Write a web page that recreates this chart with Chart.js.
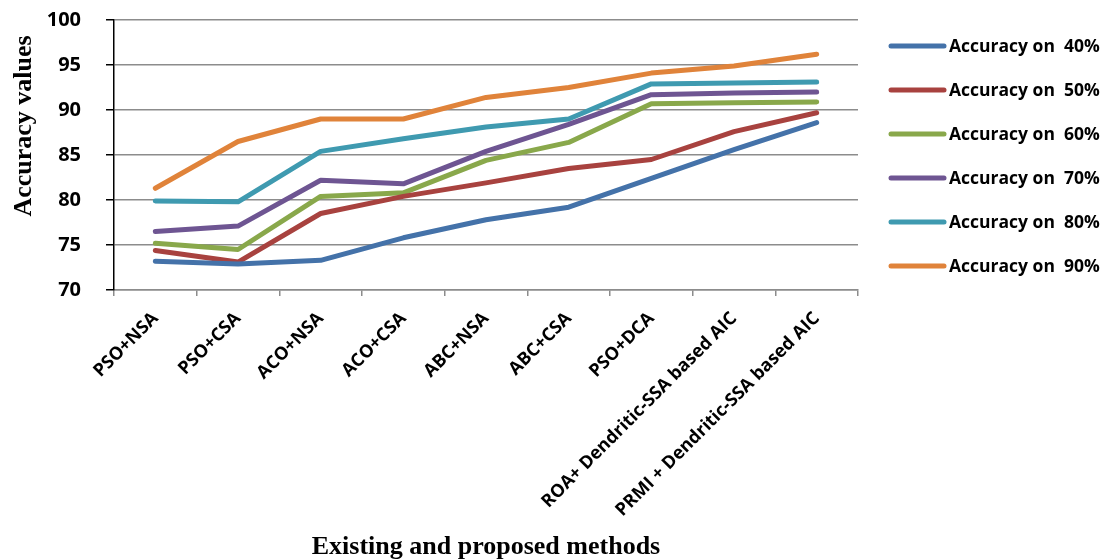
<!DOCTYPE html>
<html>
<head>
<meta charset="utf-8">
<script src="https://cdn.jsdelivr.net/npm/chart.js@4/dist/chart.umd.min.js"></script>
<style>
  html, body { margin: 0; padding: 0; background: #ffffff; }
  #wrap { width: 1108px; height: 560px; }
</style>
</head>
<body>
<div id="wrap"><canvas id="chart" width="1108" height="560"></canvas></div>
<script>
// Methods compared along the x axis
const methods = [
  'PSO+NSA', 'PSO+CSA', 'ACO+NSA', 'ACO+CSA', 'ABC+NSA', 'ABC+CSA', 'PSO+DCA',
  'ROA+ Dendritic-SSA based AIC', 'PRMI + Dendritic-SSA based AIC'
];

// Accuracy (%) for each training-data share
const acc40 = [73.2, 72.9, 73.3, 75.8, 77.8, 79.2, 82.4, 85.6, 88.6];
const acc50 = [74.4, 73.1, 78.5, 80.4, 81.9, 83.5, 84.5, 87.6, 89.7];
const acc60 = [75.2, 74.5, 80.4, 80.8, 84.4, 86.4, 90.7, 90.8, 90.9];
const acc70 = [76.5, 77.1, 82.2, 81.8, 85.4, 88.4, 91.7, 91.9, 92.0];
const acc80 = [79.9, 79.8, 85.4, 86.8, 88.1, 89.0, 92.9, 93.0, 93.1];
const acc90 = [81.3, 86.5, 89.0, 89.0, 91.4, 92.5, 94.1, 94.9, 96.2];

const seriesNames = [
  'Accuracy on  40%', 'Accuracy on  50%', 'Accuracy on  60%',
  'Accuracy on  70%', 'Accuracy on  80%', 'Accuracy on  90%'
];
const seriesColors = ['#4472a9', '#a8423f', '#89a84b', '#6e5592', '#3f9ab0', '#e0833a'];
const seriesValues = [acc40, acc50, acc60, acc70, acc80, acc90];

const yMin = 70, yMax = 100, yStep = 5;

const xTickFont = { family: '"Open Sans"', weight: 'bold', size: 18 };
const yTickFont = { family: '"Open Sans"', weight: 'bold', size: 20 };

// Legend drawn to the right of the plot: a short thick line plus the series name
const sideLegend = {
  id: 'sideLegend',
  afterDraw(chart) {
    const ctx = chart.ctx;
    ctx.save();
    ctx.font = 'bold 17.5px "Open Sans"';
    ctx.textBaseline = 'middle';
    ctx.textAlign = 'left';
    chart.data.datasets.forEach((ds, i) => {
      const y = 46 + i * 44;
      ctx.strokeStyle = ds.borderColor;
      ctx.lineWidth = 5;
      ctx.lineCap = 'round';
      ctx.beginPath();
      ctx.moveTo(891, y);
      ctx.lineTo(944, y);
      ctx.stroke();
      ctx.fillStyle = '#000000';
      ctx.fillText(ds.label, 949, y + 1);
    });
    ctx.restore();
  }
};

// Vertical y-axis title
const yTitle = {
  id: 'yTitle',
  afterDraw(chart) {
    const ctx = chart.ctx;
    ctx.save();
    ctx.translate(24, 126);
    ctx.rotate(-Math.PI / 2);
    ctx.font = 'bold 26px "Liberation Serif"';
    ctx.fillStyle = '#000000';
    ctx.textAlign = 'center';
    ctx.textBaseline = 'middle';
    ctx.fillText('Accuracy values', 0, 0);
    ctx.restore();
  }
};

new Chart(document.getElementById('chart'), {
  type: 'line',
  data: {
    labels: methods,
    datasets: seriesValues.map((vals, i) => ({
      label: seriesNames[i],
      data: vals,
      borderColor: seriesColors[i],
      backgroundColor: seriesColors[i],
      borderWidth: 5,
      borderCapStyle: 'round',
      borderJoinStyle: 'round',
      pointRadius: 0,
      pointHoverRadius: 0,
      tension: 0,
      fill: false
    }))
  },
  options: {
    responsive: false,
    animation: false,
    events: [],
    layout: { padding: { left: 0, right: 250, top: 20, bottom: 0 } },
    plugins: {
      legend: { display: false },
      tooltip: { enabled: false }
    },
    scales: {
      x: {
        type: 'category',
        offset: true,
        grid: {
          offset: true,
          drawOnChartArea: false,
          drawTicks: true,
          tickLength: 6,
          tickColor: '#8c8c8c',
          lineWidth: 1.5
        },
        border: { color: '#8c8c8c', width: 1.5 },
        ticks: {
          autoSkip: false,
          minRotation: 45,
          maxRotation: 45,
          padding: 12,
          color: '#000000',
          font: xTickFont
        },
        title: {
          display: true,
          text: 'Existing and proposed methods',
          color: '#000000',
          font: { family: 'Liberation Serif', weight: 'bold', size: 26, lineHeight: 1 },
          padding: { top: 0, bottom: 0 }
        },
        afterFit(scale) {
          scale.height = 270;
          scale.paddingLeft = 0;
          scale.paddingRight = 0;
        }
      },
      y: {
        min: yMin,
        max: yMax,
        ticks: {
          stepSize: yStep,
          padding: 25,
          color: '#000000',
          font: yTickFont
        },
        grid: {
          color: '#8c8c8c',
          lineWidth: 1.5,
          tickLength: 8,
          tickColor: '#000000'
        },
        border: { color: '#000000', width: 1.5 },
        afterFit(scale) {
          scale.width = 114;
          scale.paddingTop = 0;
          scale.paddingBottom = 0;
        }
      }
    }
  },
  plugins: [sideLegend, yTitle]
});
</script>
</body>
</html>
